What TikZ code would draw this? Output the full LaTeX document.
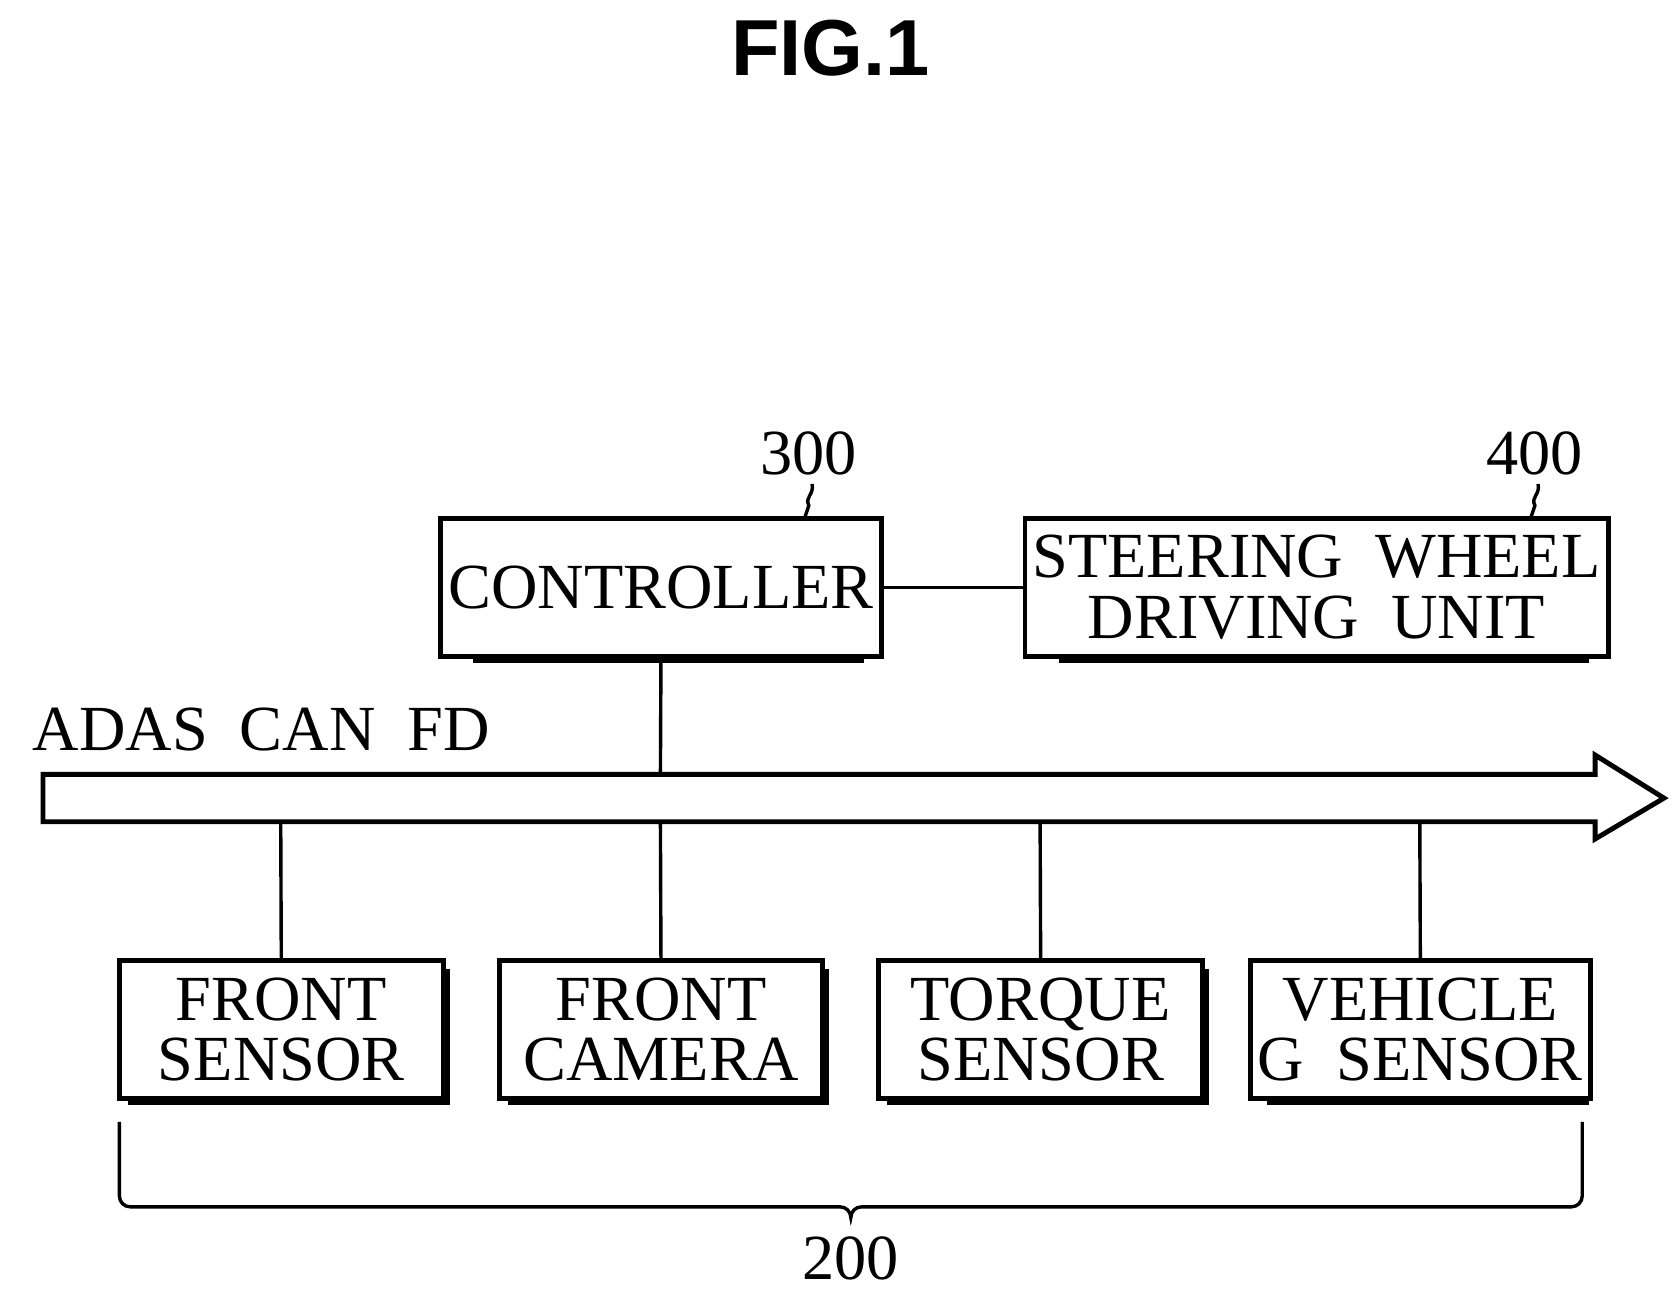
\documentclass[tikz,border=0pt]{standalone}
\usepackage{fontspec}
\setmainfont{Liberation Serif}
\newfontfamily\figfont{Liberation Sans}
\begin{document}
\begin{tikzpicture}[x=0.01cm,y=-0.01cm,
  box/.style={draw,line width=1.3pt,fill=white,minimum height=128*0.01cm,align=center,font=\fontsize{17}{17}\selectfont,inner sep=2pt},
  ln/.style={line width=0.9pt},
  lbl/.style={font=\fontsize{17}{18}\selectfont}]
\useasboundingbox (0,0) rectangle (1561,1213);
\node[font=\figfont\bfseries\fontsize{21}{22}\selectfont] (fig) at (772,45) {FIG.1};
% shadows
\foreach \a/\b/\c/\d in {432/482/797/610,977/482/1471/610,111/893/412/1021,464/893/765/1021,817/893/1118/1021,1170/893/1471/1021}
  \fill (\a+8,\b+8) rectangle (\c+6,\d+6);
\node[box,minimum width=365*0.01cm] (ctl) at (614.5,546) {CONTROLLER};
\node[box,minimum width=494*0.01cm] (swd) at (1224,546) {STEERING\ \ WHEEL\\[-1pt]DRIVING\ \ UNIT};
\node[box,minimum width=301*0.01cm] (fs) at (261.5,957) {FRONT\\[-1pt]SENSOR};
\node[box,minimum width=301*0.01cm] (fc) at (614.5,957) {FRONT\\[-1pt]CAMERA};
\node[box,minimum width=301*0.01cm] (ts) at (967.5,957) {TORQUE\\[-1pt]SENSOR};
\node[box,minimum width=301*0.01cm] (vg) at (1320.5,957) {VEHICLE\\[-1pt]G\ \ SENSOR};
% bus
\draw[line width=1.3pt,fill=white] (40,720) -- (1483,720) -- (1483,702) -- (1547,742) -- (1483,780) -- (1483,764) -- (40,764) -- cycle;
\coordinate (bt) at (614,720);
\coordinate (b1) at (261,764);\coordinate (b2) at (614,764);\coordinate (b3) at (967,764);\coordinate (b4) at (1320,764);
\node[lbl,anchor=west] (adas) at (18,678) {ADAS\ \ CAN\ \ FD};
\draw[ln] (ctl.east) -- (swd.west);
\draw[ln] (ctl.south) -- (bt);
\draw[ln] (b1) -- (fs.north);
\draw[ln] (b2) -- (fc.north);
\draw[ln] (b3) -- (ts.north);
\draw[ln] (b4) -- (vg.north);
% reference labels
\node[lbl] (n300) at (752,422) {300};
\node[lbl] (n400) at (1427,422) {400};
\draw[ln] (755,450) .. controls (757,460) and (748,462) .. (752,470) -- (748,482);
\draw[ln] (1430,450) .. controls (1432,460) and (1423,462) .. (1427,470) -- (1423,482);
% brace
\draw[ln] (111,1043) -- (111,1112) arc (180:90:10) -- (781,1122) arc(270:360:10) arc(180:270:10) -- (1461,1122) arc(90:0:10) -- (1471,1043);
\node[lbl] (n200) at (791,1170) {200};
\end{tikzpicture}
\end{document}
